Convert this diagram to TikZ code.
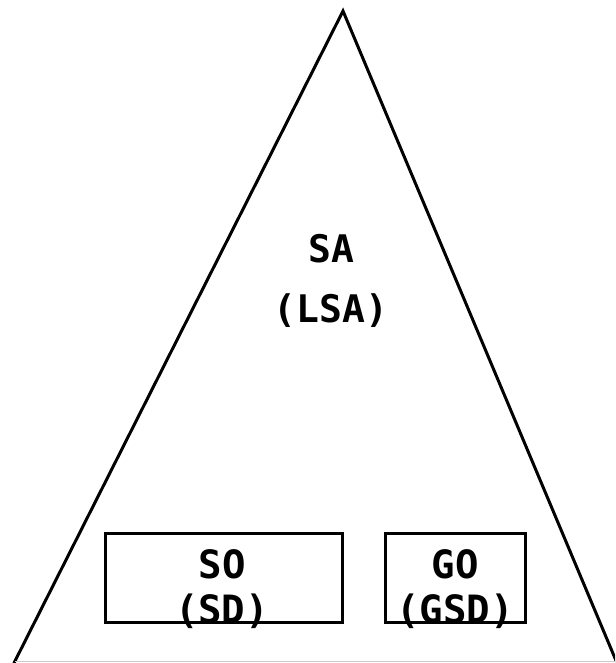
\documentclass[tikz,border=0pt]{standalone}
\usepackage{fontspec}
\newfontfamily\pixfont{DejaVu Sans Mono}
\usetikzlibrary{positioning}
\tikzset{
  side/.style={line width=3pt, line cap=round},
  basebox/.style={draw, line width=3pt, inner sep=0pt},
  biglbl/.style={font=\pixfont\bfseries\fontsize{38}{60}\selectfont, align=center, inner sep=0pt},
  boxlbl/.style={font=\pixfont\bfseries\fontsize{39}{45}\selectfont, align=center, inner sep=0pt},
}
\begin{document}
\begin{tikzpicture}[x=1pt,y=-1pt]
  \useasboundingbox (0,0) rectangle (615,663);
  % the triangle, its base is cut off at the bottom
  \coordinate (apex) at (343,11);
  \coordinate (left) at (14,663);
  \coordinate (right) at (617,663);
  \begin{scope}
    \clip (0,0) rectangle (615,663);
    \draw[side] (left) -- (apex) -- (right);
    \draw[black!20, line width=1pt] (15,661.5) -- (615,661.5);
  \end{scope}
  \node[biglbl] (sa) at (331,281) {SA\\(LSA)};
  % the two boxes
  \node[basebox, minimum width=237pt, minimum height=89pt] (so) at (223.5,577.5) {};
  \node[basebox, minimum width=140pt, minimum height=89pt] (go) at (455,577.5) {};
  \node[boxlbl] (solbl) at (222,589) {SO\\(SD)};
  \node[boxlbl] (golbl) at (455,589) {GO\\(GSD)};
\end{tikzpicture}
\end{document}
